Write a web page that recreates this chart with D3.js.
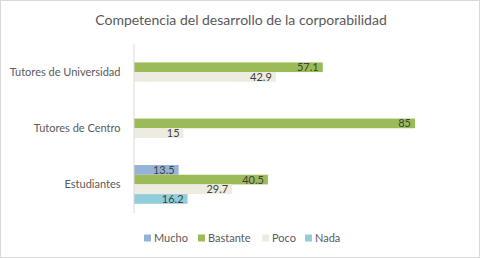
<!DOCTYPE html>
<html>
<head>
<meta charset="utf-8">
<script src="https://cdn.jsdelivr.net/npm/d3@7"></script>
<style>
  body { margin: 0; background: #fff; }
  text { font-family: Lato, "Open Sans", sans-serif; }
</style>
</head>
<body>
<div id="chart"></div>
<script>
/* DATA */
const categories = ["Tutores de Universidad", "Tutores de Centro", "Estudiantes"]
const seriesNames = ["Mucho", "Bastante", "Poco", "Nada"]
const mucho = [null, null, 13.5]
const bastante = [57.1, 85, 40.5]
const poco = [42.9, 15, 29.7]
const nada = [null, null, 16.2]
const colors = ["#95B3D7", "#9BBB59", "#EEECE1", "#92CDDC"]

/* CONSTANTS */
const width = 480, height = 258
const plot = { left: 134, right: 431.5, top: 44, bottom: 212.5 }

const svg = d3.select("#chart")
  .append("svg")
  .attr("width", width)
  .attr("height", height)

// chart border
svg.append("rect")
  .attr("x", 0.5).attr("y", 0.5)
  .attr("width", width - 1).attr("height", height - 1)
  .attr("fill", "#fff")
  .attr("stroke", "#d9d9d9")

// title
svg.append("text")
  .attr("x", 241).attr("y", 25)
  .attr("text-anchor", "middle")
  .attr("fill", "#595959")
  .attr("font-size", 14)
  .text("Competencia del desarrollo de la corporabilidad")

//scales
const xScale = d3.scaleLinear()
  .domain([0, 90])
  .range([plot.left, plot.right])

const yScale = d3.scaleBand()
  .domain(categories)
  .range([plot.top, plot.bottom])
  .paddingInner(0.31)
  .paddingOuter(0.155)

const ySub = d3.scaleBand()
  .domain(seriesNames)
  .range([0, yScale.bandwidth()])

const colorScale = d3.scaleOrdinal()
  .domain(seriesNames)
  .range(colors)

const table = seriesNames.map((s, si) => ({
  key: s,
  values: [mucho, bastante, poco, nada][si]
}))

const cells = []
table.forEach(t => {
  t.values.forEach((v, i) => {
    if (v != null) cells.push({ key: t.key, cat: categories[i], value: v })
  })
})

//bars
svg.selectAll(".bar")
  .data(cells)
  .join("rect")
  .attr("class", "bar")
  .attr("x", xScale(0))
  .attr("y", d => yScale(d.cat) + ySub(d.key))
  .attr("width", d => xScale(d.value) - xScale(0))
  .attr("height", ySub.bandwidth())
  .attr("fill", d => colorScale(d.key))

//labels
svg.selectAll(".lbl")
  .data(cells)
  .join("text")
  .attr("class", "lbl")
  .attr("x", d => xScale(d.value) - 4)
  .attr("y", d => yScale(d.cat) + ySub(d.key) + ySub.bandwidth() / 2)
  .attr("dy", "0.36em")
  .attr("text-anchor", "end")
  .attr("fill", "#404040")
  .attr("font-size", 11)
  .text(d => d.value)

//y-axis
const yAxis = d3.axisLeft(yScale).tickSize(0).tickPadding(13)
const gy = svg.append("g")
  .attr("class", "y-axis")
  .attr("transform", `translate(${plot.left - 0.5},0)`)
  .call(yAxis)
gy.select(".domain").attr("stroke", "#d9d9d9")
gy.selectAll("text")
  .attr("fill", "#595959")
  .attr("font-size", 11)
  .style("font-family", "Lato, 'Open Sans', sans-serif")

//legend
const legendX = [144, 198, 262, 305]
const legend = svg.selectAll(".legend")
  .data(seriesNames)
  .join("g")
  .attr("class", "legend")
  .attr("transform", (d, i) => `translate(${legendX[i]},238)`)

legend.append("rect")
  .attr("x", 0).attr("y", -3.5)
  .attr("width", 7).attr("height", 7)
  .attr("fill", d => colorScale(d))

legend.append("text")
  .attr("x", 10)
  .attr("dy", "0.36em")
  .attr("fill", "#595959")
  .attr("font-size", 11)
  .text(d => d)
</script>
</body>
</html>
